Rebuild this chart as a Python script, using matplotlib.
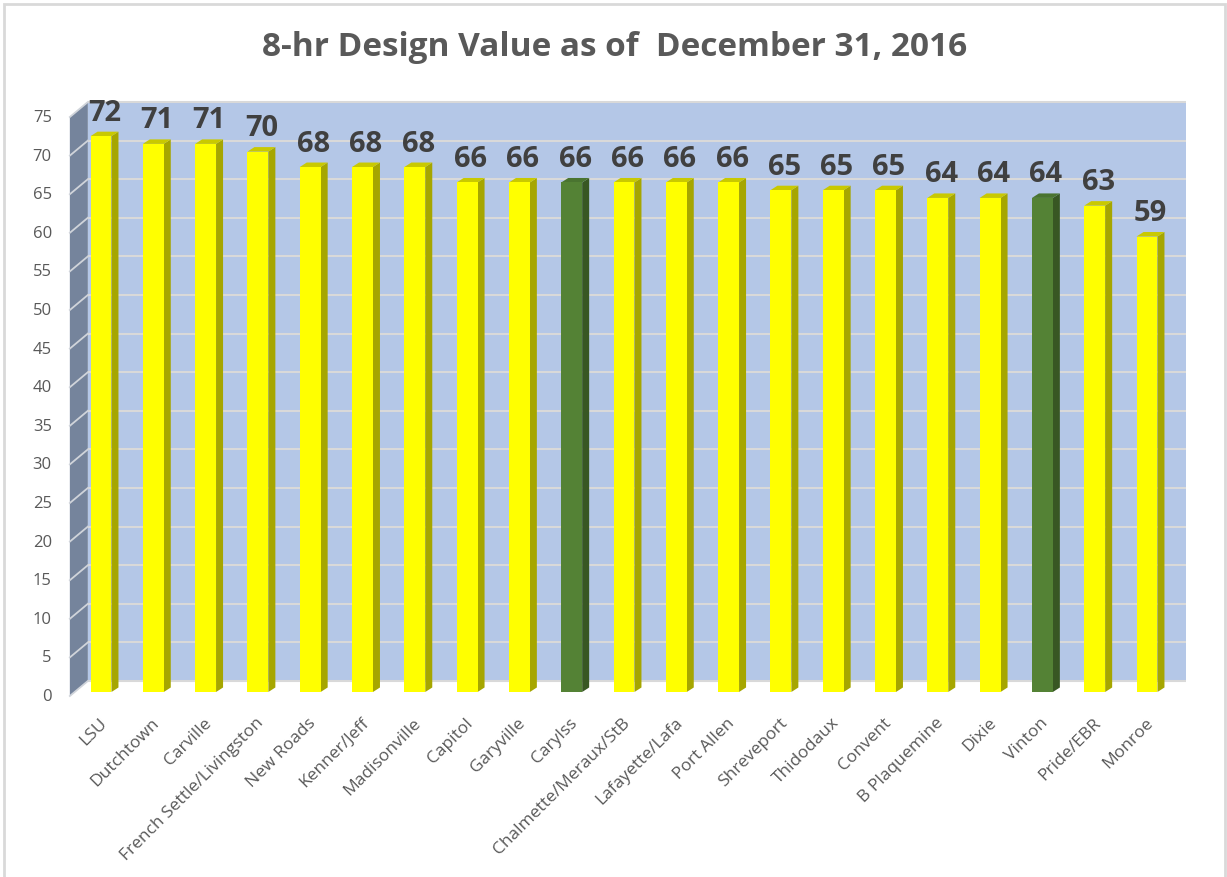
import matplotlib
matplotlib.use("Agg")
import matplotlib.pyplot as plt
from matplotlib.patches import Polygon, Rectangle

# Data
sites = ["LSU", "Dutchtown", "Carville", "French Settle/Livingston", "New Roads",
         "Kenner/Jeff", "Madisonville", "Capitol", "Garyville", "Carylss",
         "Chalmette/Meraux/StB", "Lafayette/Lafa", "Port Allen", "Shreveport",
         "Thidodaux", "Convent", "B Plaquemine", "Dixie", "Vinton", "Pride/EBR",
         "Monroe"]
values = [72, 71, 71, 70, 68, 68, 68, 66, 66, 66, 66, 66, 66, 65, 65, 65, 64, 64, 64, 63, 59]
green_sites = ["Carylss", "Vinton"]
y_ticks = list(range(0, 80, 5))
title = "8-hr Design Value as of  December 31, 2016"

plt.rcParams["font.family"] = ["Open Sans", "DejaVu Sans"]

W, H = 1227, 878
fig = plt.figure(figsize=(W / 100, H / 100), dpi=100)
ax = fig.add_axes([0, 0, 1, 1])

# pixel scale of one category / one value unit on the front plane
px_x, px_y = 52.3, 7.72
x0_px, y0_px = 101, 693
ax.set_xlim(-x0_px / px_x, (W - x0_px) / px_x)
ax.set_ylim((y0_px - H) / px_y, y0_px / px_y)
ax.axis("off")

def dx(p):
    return p / px_x

def dy(p):
    return p / px_y

n = len(sites)
ymax = y_ticks[-1]

# walls
wall_dx, wall_dy = dx(13), dy(11)     # back wall offset
side_dx, side_dy = dx(-5), dy(-4)     # front edge of side wall
left = -0.5
ax.add_patch(Rectangle((left + wall_dx, wall_dy), n, ymax,
                       facecolor="#B4C7E7", edgecolor="none", zorder=1))
ax.add_patch(Polygon([(left + side_dx, side_dy), (left + wall_dx, wall_dy),
                      (left + wall_dx, ymax + wall_dy), (left + side_dx, ymax + side_dy)],
                     closed=True, facecolor="#75849C", edgecolor="none", zorder=1))
for v in y_ticks:
    ax.plot([left + wall_dx, left + wall_dx + n], [v + wall_dy, v + wall_dy],
            color="#D9D9D9", lw=1.5, zorder=2, solid_capstyle="butt")
    ax.plot([left + side_dx, left + wall_dx], [v + side_dy, v + wall_dy],
            color="#D0D4DA", lw=1.3, zorder=2)
    ax.text(left + side_dx - dx(18), v + side_dy, str(v), ha="right", va="center",
            fontsize=12, color="#595959")

# bars with 3D faces
bw = 0.40
bdx, bdy = dx(7), dy(4.5)
for i, (s, v) in enumerate(zip(sites, values)):
    if s in green_sites:
        front, side, top = "#548235", "#385723", "#4A7430"
    else:
        front, side, top = "#FFFF00", "#A6A600", "#C9C900"
    ax.bar(i, v, width=bw, color=front, edgecolor="none", zorder=4)
    r, l = i + bw / 2, i - bw / 2
    ax.add_patch(Polygon([(r, 0), (r + bdx, bdy), (r + bdx, v + bdy), (r, v)],
                         closed=True, facecolor=side, edgecolor="none", zorder=3))
    ax.add_patch(Polygon([(l, v), (r, v), (r + bdx, v + bdy), (l + bdx, v + bdy)],
                         closed=True, facecolor=top, edgecolor="none", zorder=3))
    ax.text(i + bdx / 2, v + bdy + dy(12), str(v), ha="center", va="baseline",
            fontsize=21, fontweight="bold", color="#404040", zorder=5)
    ax.text(i - dx(2), dy(-22), s, rotation=45, rotation_mode="anchor",
            ha="right", va="top", fontsize=12.5, color="#595959")

# title and chart border
fig.text(615 / W, 1 - 47 / H, title, ha="center", va="center",
         fontsize=24, fontweight="bold", color="#595959")
fig.patches.append(Rectangle((4 / W, -0.05), 1221 / W, 1.05 - 5 / H,
                             transform=fig.transFigure, facecolor="none",
                             edgecolor="#D9D9D9", lw=2))

fig.savefig("out.png", dpi=100)
